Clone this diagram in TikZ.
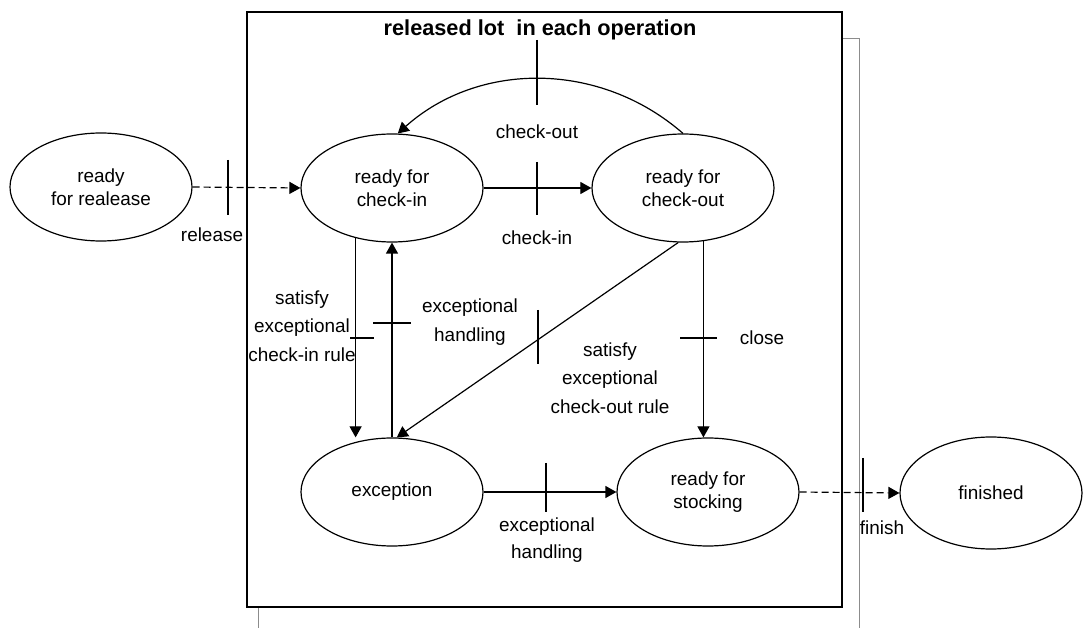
\documentclass[tikz,border=0pt]{standalone}
\usepackage{fontspec}
\setmainfont{Liberation Sans}
\usetikzlibrary{shapes.geometric,arrows.meta}
\begin{document}
\begin{tikzpicture}[x=0.5bp,y=-0.5bp,
  state/.style={draw,ellipse,minimum width=91bp,minimum height=54bp,inner sep=0pt,
    line width=0.6bp,align=center,font=\fontsize{9.5}{11.5}\selectfont},
  arr/.style={line width=0.6bp,-{Triangle[length=5.5bp,width=6bp]}},
  darr/.style={arr,dash pattern=on 3.5bp off 2bp},
  tick/.style={line width=0.6bp},
  lbl/.style={align=center,inner sep=0pt,font=\fontsize{9.5}{14.3}\selectfont},
  lbls/.style={align=center,inner sep=0pt,font=\fontsize{9.5}{13.5}\selectfont},
  frame/.style={line width=1bp},
  shadow/.style={draw=black!45,line width=0.5bp}]
\useasboundingbox (0,0) rectangle (1083,628);
% offset shadow frame and main frame
\draw[shadow] (258,628) -- (258,39) -- (859,39) -- (859,628);
\draw[frame,fill=white] (247,12) rectangle (842,607);
\node[inner sep=0pt,font=\fontsize{10.9}{13}\selectfont\bfseries] (title) at (540,30) {released lot~ in each operation};
% states
\node[state] (rr) at (101,187) {ready\\for realease};
\node[state] (ci) at (392,188) {ready for\\check-in};
\node[state] (co) at (683,188) {ready for\\check-out};
\node[state] (ex) at (392,492) {exception};
\node[state] (st) at (708,492) {ready for\\stocking};
\node[state,minimum height=56bp] (fi) at (991,493) {finished};
% release
\draw[darr] (rr.east) -- (ci.west);
\draw[tick] (228,160) -- (228,215);
\node[lbl] (lrel) at (212,235) {release};
% check-in
\draw[arr] (ci.east) -- (co.west);
\draw[tick] (537,162) -- (537,215);
\node[lbl] (lci) at (537,238) {check-in};
% check-out
\draw[arr] (co.north) .. controls (600,61) and (479,61) .. (ci.84);
\draw[tick] (537,40) -- (537,105);
\node[lbl] (lco) at (537,132) {check-out};
% satisfy exceptional check-in rule
\draw[arr] (ci.-126) -- (ci.-126 |- ex.north);
\draw[tick] (350,338) -- (374,338);
\node[lbl] (lsci) at (302,326) {satisfy\\exceptional\\check-in rule};
% exceptional handling (up)
\draw[arr] (ex.north) -- (ci.south);
\draw[tick] (373,323) -- (411,323);
\node[lbl] (leh1) at (470,322) {exceptional\\handling};
% satisfy exceptional check-out rule
\draw[arr] (co.-95) -- (ex.85);
\draw[tick] (538,310) -- (538,364);
\node[lbl] (lsco) at (610,378) {satisfy\\exceptional\\check-out rule};
% close
\draw[arr] (co.-69) -- (co.-69 |- st.north);
\draw[tick] (680,338) -- (717,338);
\node[lbl] (lcl) at (762,338) {close};
% exceptional handling (bottom)
\draw[arr] (ex.east) -- (st.west);
\draw[tick] (546,463) -- (546,512);
\node[lbls] (leh2) at (547,540) {exceptional\\handling};
% finish
\draw[darr] (st.east) -- (fi.west);
\draw[tick] (863,458) -- (863,512);
\node[lbl] (lfin) at (882,528) {finish};
\end{tikzpicture}
\end{document}
